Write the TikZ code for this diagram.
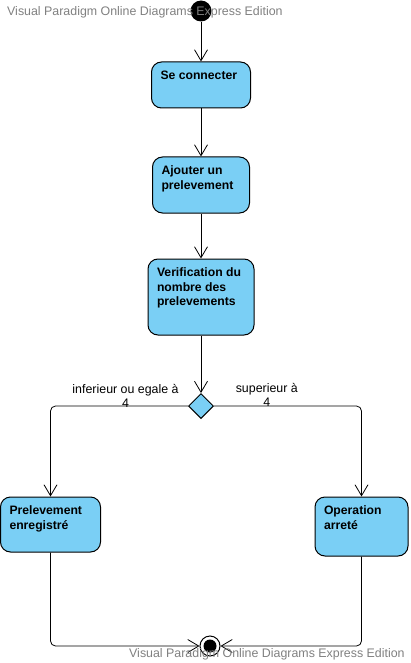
\documentclass[tikz,border=0pt]{standalone}
\usepackage{fontspec}
\setmainfont{Liberation Sans}
\usetikzlibrary{shapes.geometric, arrows.meta}
\definecolor{actfill}{RGB}{122,207,245}
\definecolor{wmgray}{RGB}{128,128,128}
\newcommand{\acttext}[3]{\parbox[t][#2][t]{#1}{\raggedright #3}}

\begin{document}
\begin{tikzpicture}[x=1pt, y=-1pt,
  act/.style={draw, line width=1pt, fill=actfill, rounded corners=10pt, inner xsep=9pt, inner ysep=9pt, font=\bfseries\fontsize{12.2}{14.4}\selectfont},
  flow/.style={draw, line width=0.8pt, -{Straight Barb[length=11pt,width=13pt]}},
  branch/.style={flow, rounded corners=5pt},
  guard/.style={inner sep=0pt, align=center, font=\fontsize{12.4}{14}\selectfont},
  wm/.style={text=wmgray, inner sep=0pt, font=\fontsize{12.4}{14}\selectfont}]
\useasboundingbox (0,0) rectangle (411,663);
\node[circle, fill=black, minimum size=21pt, inner sep=0pt] (start) at (201,11) {};
\node[act] (connect) at (201,85) {\acttext{81pt}{28pt}{Se connecter}};
\node[act] (add) at (201,185) {\acttext{79pt}{38pt}{Ajouter un\\prelevement}};
\node[act] (verify) at (201,297) {\acttext{88pt}{58pt}{Verification du\\nombre des\\prelevements}};
\node[diamond, draw, line width=1pt, fill=actfill, minimum size=25pt, inner sep=0pt] (decide) at (201,406) {};
\node[act] (saved) at (50.5,524.5) {\acttext{82pt}{37pt}{Prelevement\\enregistré}};
\node[act] (stopped) at (361.5,526.5) {\acttext{75pt}{41pt}{Operation\\arreté}};
\node[circle, draw, line width=1pt, minimum size=20pt, inner sep=0pt, path picture={\fill (path picture bounding box.center) circle (6.5pt);}] (end) at (210,646) {};
\draw[flow] (start) -- (connect);
\draw[flow] (connect) -- (add);
\draw[flow] (add) -- (verify);
\draw[flow] (verify) -- (decide);
\draw[branch] (decide.west) -| node[guard, pos=0.227, anchor=south, yshift=-2pt] {inferieur ou egale à\\4} (saved.north);
\draw[branch] (decide.east) -| node[guard, pos=0.179, anchor=south, yshift=-1pt] {superieur à\\4} (stopped.north);
\draw[branch] (saved.south) |- (end.west);
\draw[branch] (stopped.south) |- (end.east);
\node[wm, anchor=base west] (wmtop) at (7,16) {Visual Paradigm Online Diagrams Express Edition};
\node[wm, anchor=base west] (wmbottom) at (129,657) {Visual Paradigm Online Diagrams Express Edition};
\end{tikzpicture}
\end{document}
